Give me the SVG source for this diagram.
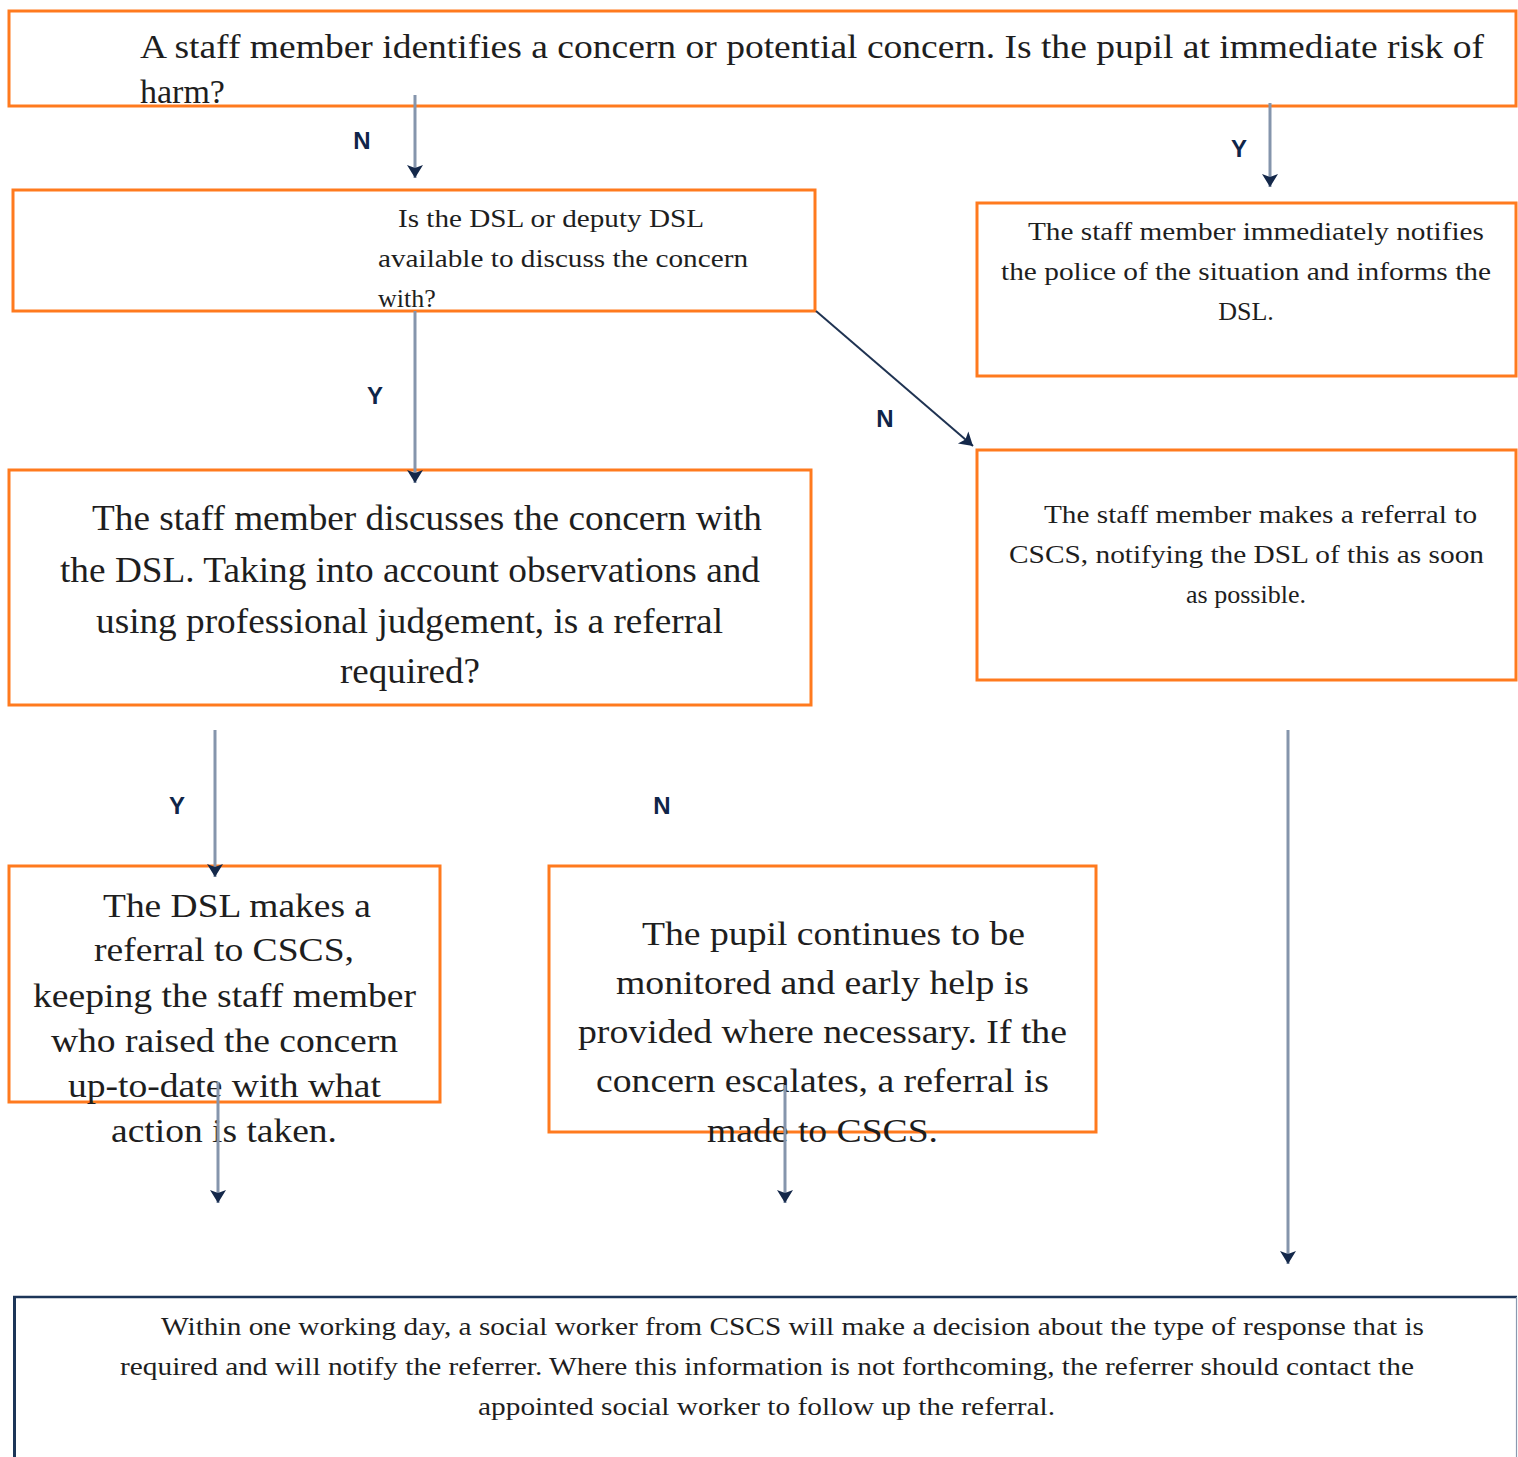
<svg xmlns="http://www.w3.org/2000/svg" width="1518" height="1457" viewBox="0 0 1518 1457">
<style>
.box{fill:#fff;stroke:#ff7a1e;stroke-width:3}
.t{font-family:'Liberation Serif','DejaVu Serif',serif;fill:#1e1e1e}
.lbl{font-family:'Liberation Sans',Arial,sans-serif;font-weight:bold;font-size:24px;fill:#0f2549;text-anchor:middle}
.shaft{stroke:#8595ac;stroke-width:3;fill:none}
.diag{stroke:#1f3352;stroke-width:2;fill:none}
</style>
<defs>
<marker id="ah" markerUnits="userSpaceOnUse" markerWidth="18" markerHeight="18" refX="13" refY="8" orient="auto" viewBox="0 0 18 16">
<path d="M0,0 L13,8 L0,16 L3,8 z" fill="#14284a"/>
</marker>
</defs>
<rect width="1518" height="1457" fill="#fff"/>

<g id="node-start">
<rect class="box" x="9" y="11" width="1507" height="95"/>
<text class="t" font-size="34" x="140" y="58" textLength="1344" lengthAdjust="spacingAndGlyphs">A staff member identifies a concern or potential concern. Is the pupil at immediate risk of</text>
<text class="t" font-size="34" x="140" y="103">harm?</text>
</g>

<g id="node-dsl-available">
<rect class="box" x="13" y="190" width="802" height="121"/>
<text class="t" font-size="26" x="398" y="227" textLength="306" lengthAdjust="spacingAndGlyphs">Is the DSL or deputy DSL</text>
<text class="t" font-size="26" x="378" y="267" textLength="370" lengthAdjust="spacingAndGlyphs">available to discuss the concern</text>
<text class="t" font-size="26" x="378" y="307">with?</text>
</g>

<g id="node-police">
<rect class="box" x="977" y="203" width="539" height="173"/>
<text class="t" font-size="26" x="1028" y="240" textLength="456" lengthAdjust="spacingAndGlyphs">The staff member immediately notifies</text>
<text class="t" font-size="26" x="1001" y="280" textLength="490" lengthAdjust="spacingAndGlyphs">the police of the situation and informs the</text>
<text class="t" font-size="26" x="1246" y="320" text-anchor="middle">DSL.</text>
</g>

<g id="node-discuss">
<rect class="box" x="9" y="470" width="802" height="235"/>
<text class="t" font-size="35" x="92" y="530" textLength="670" lengthAdjust="spacingAndGlyphs">The staff member discusses the concern with</text>
<text class="t" font-size="35" x="60" y="582" textLength="700" lengthAdjust="spacingAndGlyphs">the DSL. Taking into account observations and</text>
<text class="t" font-size="35" x="96" y="633" textLength="627" lengthAdjust="spacingAndGlyphs">using professional judgement, is a referral</text>
<text class="t" font-size="35" x="340" y="683" textLength="140" lengthAdjust="spacingAndGlyphs">required?</text>
</g>

<g id="node-staff-referral">
<rect class="box" x="977" y="450" width="539" height="230"/>
<text class="t" font-size="26" x="1044" y="523" textLength="433" lengthAdjust="spacingAndGlyphs">The staff member makes a referral to</text>
<text class="t" font-size="26" x="1009" y="563" textLength="475" lengthAdjust="spacingAndGlyphs">CSCS, notifying the DSL of this as soon</text>
<text class="t" font-size="26" x="1246" y="603" text-anchor="middle">as possible.</text>
</g>

<g id="node-dsl-referral">
<rect class="box" x="9" y="866" width="431" height="236"/>
<text class="t" font-size="33" x="103" y="917" textLength="268" lengthAdjust="spacingAndGlyphs">The DSL makes a</text>
<text class="t" font-size="33" x="94" y="961" textLength="260" lengthAdjust="spacingAndGlyphs">referral to CSCS,</text>
<text class="t" font-size="33" x="33" y="1007" textLength="383" lengthAdjust="spacingAndGlyphs">keeping the staff member</text>
<text class="t" font-size="33" x="51" y="1052" textLength="347" lengthAdjust="spacingAndGlyphs">who raised the concern</text>
<text class="t" font-size="33" x="68" y="1097" textLength="313" lengthAdjust="spacingAndGlyphs">up-to-date with what</text>
<text class="t" font-size="33" x="111" y="1142" textLength="226" lengthAdjust="spacingAndGlyphs">action is taken.</text>
</g>

<g id="node-monitor">
<rect class="box" x="549" y="866" width="547" height="266"/>
<text class="t" font-size="34" x="642" y="945" textLength="383" lengthAdjust="spacingAndGlyphs">The pupil continues to be</text>
<text class="t" font-size="34" x="616" y="994" textLength="413" lengthAdjust="spacingAndGlyphs">monitored and early help is</text>
<text class="t" font-size="34" x="578" y="1043" textLength="489" lengthAdjust="spacingAndGlyphs">provided where necessary. If the</text>
<text class="t" font-size="34" x="596" y="1092" textLength="453" lengthAdjust="spacingAndGlyphs">concern escalates, a referral is</text>
<text class="t" font-size="34" x="707" y="1142" textLength="231" lengthAdjust="spacingAndGlyphs">made to CSCS.</text>
</g>

<g id="node-outcome">
<rect x="14" y="1297" width="1503" height="200" fill="#fff" stroke="none"/>
<line x1="13" y1="1297" x2="1517" y2="1297" stroke="#1d3558" stroke-width="2.5"/>
<line x1="14.5" y1="1296" x2="14.5" y2="1457" stroke="#1d3558" stroke-width="3"/>
<line x1="1516.5" y1="1297" x2="1516.5" y2="1457" stroke="#8a99b0" stroke-width="1.2"/>
<text class="t" font-size="26" x="161" y="1335" textLength="1263" lengthAdjust="spacingAndGlyphs">Within one working day, a social worker from CSCS will make a decision about the type of response that is</text>
<text class="t" font-size="26" x="120" y="1375" textLength="1294" lengthAdjust="spacingAndGlyphs">required and will notify the referrer. Where this information is not forthcoming, the referrer should contact the</text>
<text class="t" font-size="26" x="478" y="1415" textLength="577" lengthAdjust="spacingAndGlyphs">appointed social worker to follow up the referral.</text>
</g>

<g id="connectors">
<line class="shaft" x1="415" y1="95" x2="415" y2="178" marker-end="url(#ah)"/>
<line class="shaft" x1="1270" y1="103" x2="1270" y2="187" marker-end="url(#ah)"/>
<line class="shaft" x1="415" y1="311" x2="415" y2="483" marker-end="url(#ah)"/>
<line class="diag" x1="816" y1="311" x2="973" y2="446" marker-end="url(#ah)"/>
<line class="shaft" x1="215" y1="730" x2="215" y2="877" marker-end="url(#ah)"/>
<line class="shaft" x1="1288" y1="730" x2="1288" y2="1264" marker-end="url(#ah)"/>
<line class="shaft" x1="218" y1="1082" x2="218" y2="1203" marker-end="url(#ah)"/>
<line class="shaft" x1="785" y1="1085" x2="785" y2="1203" marker-end="url(#ah)"/>
<text class="lbl" x="362" y="149">N</text>
<text class="lbl" x="1239" y="157">Y</text>
<text class="lbl" x="375" y="404">Y</text>
<text class="lbl" x="885" y="427">N</text>
<text class="lbl" x="177" y="814">Y</text>
<text class="lbl" x="662" y="814">N</text>
</g>
</svg>
